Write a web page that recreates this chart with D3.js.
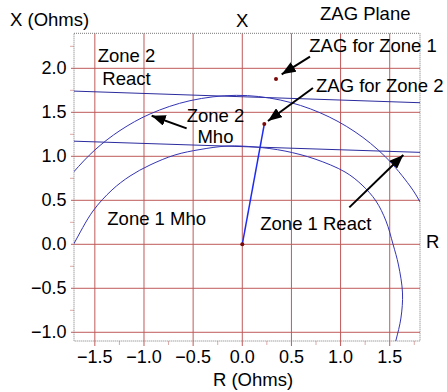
<!DOCTYPE html>
<html>
<head>
<meta charset="utf-8">
<script src="https://cdn.jsdelivr.net/npm/d3@7"></script>
<style>
  body { margin: 0; background: #fff; }
  svg text { font-family: "Liberation Sans", Arial, sans-serif; }
</style>
</head>
<body>
<div id="zag-chart"></div>
<script>
// axis ticks (Ohms)
const xTicks = [-1.5, -1.0, -0.5, 0.0, 0.5, 1.0, 1.5];
const yTicks = [-1.0, -0.5, 0.0, 0.5, 1.0, 1.5, 2.0];
const xMinor = [-1.25, -0.75, -0.25, 0.25, 0.75, 1.25, 1.75];
const yMinor = [-0.75, -0.25, 0.25, 0.75, 1.25, 1.75, 2.25];

// characteristics, [R, X]
const zone1Mho = [[-1.793, -0.156], [-1.712, 0.009], [-1.519, 0.378], [-1.326, 0.617], [-1.142, 0.776],
    [-0.939, 0.901], [-0.685, 1.015], [-0.430, 1.077], [-0.145, 1.117], [0.129, 1.106], [0.434, 1.060],
    [0.740, 0.969], [1.045, 0.822], [1.218, 0.674], [1.360, 0.492], [1.462, 0.265], [1.533, 0.003],
    [1.589, -0.235], [1.630, -0.553], [1.614, -0.838], [1.564, -1.088], [1.523, -1.258]];
const zone2Mho = [[-1.793, 0.710], [-1.712, 0.826], [-1.498, 1.074], [-1.244, 1.293], [-0.939, 1.481],
    [-0.532, 1.632], [-0.059, 1.693], [0.385, 1.640], [0.791, 1.495], [1.147, 1.278], [1.452, 0.999],
    [1.706, 0.663], [1.808, 0.483], [1.889, 0.308]];
const zone1React = [[-1.712, 1.172], [1.808, 1.045]];
const zone2React = [[-1.712, 1.741], [1.808, 1.609]];

// ZAG points
const zagNames = ["origin", "ZAG for Zone 1", "ZAG for Zone 2"];
const zagR = [0.0, 0.343, 0.224];
const zagX = [0.0, 1.878, 1.367];

// callouts: text, anchor, R, X (baseline)
const labelText = ["Zone 2", "React", "Zone 2", "Mho", "Zone 1 Mho", "Zone 1 React", "ZAG for Zone 1", "ZAG for Zone 2"];
const labelAnchor = ["middle", "middle", "middle", "middle", "middle", "middle", "start", "start"];
const labelR = [-1.178, -1.178, -0.273, -0.273, -0.871, 0.748, 0.682, 0.750];
const labelX = [2.068, 1.810, 1.393, 1.151, 0.219, 0.163, 2.189, 1.734];

// arrows: from [R, X] to [R, X]
const arrowFrom = [[-0.566, 1.318], [0.689, 2.132], [0.719, 1.776], [1.089, 0.420]];
const arrowTo = [[-0.922, 1.461], [0.401, 1.932], [0.261, 1.401], [1.638, 1.015]];

function drawZagPlane() {
    const W = 447, H = 392;
    let margin = { top: 33.3, right: 27, bottom: 51, left: 74 };
    const width = W - margin.left - margin.right,
    height = H - margin.top - margin.bottom;

    var svg = d3.select("#zag-chart").
    append("svg").
    attr("width", W).
    attr("height", H);

    var g = svg.append("g").
    attr("transform", "translate(" + margin.left + "," + margin.top + ")");

    var x = d3.scaleLinear().domain([-1.712, 1.808]).range([0, width]);
    var y = d3.scaleLinear().domain([-1.099, 2.398]).range([height, 0]);

    g.append("clipPath").attr("id", "plot-clip").
    append("rect").attr("width", width).attr("height", height);

    const gridColor = "#c05a5a";
    const tickColor = "#dcaaaa";

    // grid + major ticks sticking out
    g.selectAll(".vgrid").data(xTicks).enter().append("line").
    attr("x1", d => x(d)).attr("x2", d => x(d)).
    attr("y1", 0).attr("y2", height + 5).
    attr("stroke", gridColor).attr("stroke-width", 1);

    g.selectAll(".hgrid").data(yTicks).enter().append("line").
    attr("x1", -3).attr("x2", width).
    attr("y1", d => y(d)).attr("y2", d => y(d)).
    attr("stroke", gridColor).attr("stroke-width", 1);

    g.selectAll(".xminor").data(xMinor).enter().append("line").
    attr("x1", d => x(d)).attr("x2", d => x(d)).
    attr("y1", height).attr("y2", height + 4).
    attr("stroke", tickColor);

    g.selectAll(".yminor").data(yMinor).enter().append("line").
    attr("x1", -4).attr("x2", 0).
    attr("y1", d => y(d)).attr("y2", d => y(d)).
    attr("stroke", tickColor);

    // dotted frame
    g.append("rect").
    attr("x", 0).attr("y", 0).
    attr("width", width).attr("height", height).
    attr("fill", "none").
    attr("stroke", "#777").
    attr("stroke-width", 1).
    attr("stroke-dasharray", "1,1");

    const fmt = d => d3.format(".1f")(d).replace("-", "\u2212");

    g.selectAll(".xlab").data(xTicks).enter().append("text").
    attr("x", d => x(d)).
    attr("y", height + 21.7).
    attr("text-anchor", "middle").
    style("font-size", "18px").
    text(fmt);

    g.selectAll(".ylab").data(yTicks).enter().append("text").
    attr("x", -7.5).
    attr("y", d => y(d) + 6).
    attr("text-anchor", "end").
    style("font-size", "18px").
    text(fmt);

    var plot = g.append("g").attr("clip-path", "url(#plot-clip)");

    let line = d3.line().x(d => x(d[0])).y(d => y(d[1]));
    let curve = d3.line().x(d => x(d[0])).y(d => y(d[1])).curve(d3.curveCatmullRom);

    plot.append("path").datum(zone2React).attr("d", line).
    attr("fill", "none").attr("stroke", "#2b2b9e").attr("stroke-width", 1);
    plot.append("path").datum(zone1React).attr("d", line).
    attr("fill", "none").attr("stroke", "#2b2b9e").attr("stroke-width", 1);

    plot.append("path").datum(zone2Mho).attr("d", curve).
    attr("fill", "none").attr("stroke", "#3434b4").attr("stroke-width", 1);
    plot.append("path").datum(zone1Mho).attr("d", curve).
    attr("fill", "none").attr("stroke", "#3434b4").attr("stroke-width", 1);

    // line from origin to ZAG for zone 2
    plot.append("line").
    attr("x1", x(zagR[0])).attr("y1", y(zagX[0])).
    attr("x2", x(zagR[2])).attr("y2", y(zagX[2])).
    attr("stroke", "#1f2bf0").attr("stroke-width", 1.5);

    plot.selectAll(".zag").data(zagNames).enter().append("circle").
    attr("cx", (d, i) => x(zagR[i])).
    attr("cy", (d, i) => y(zagX[i])).
    attr("r", 2).
    attr("fill", "#7a0a0a");

    // arrow heads
    svg.append("defs").append("marker").
    attr("id", "head").
    attr("viewBox", "0 0 14 11").
    attr("refX", 14).attr("refY", 5.5).
    attr("markerWidth", 14).attr("markerHeight", 11).
    attr("markerUnits", "userSpaceOnUse").
    attr("orient", "auto").
    append("path").attr("d", "M0,0 L14,5.5 L0,11 Z").attr("fill", "#000");

    g.selectAll(".arrow").data(arrowFrom).enter().append("line").
    attr("x1", d => x(d[0])).attr("y1", d => y(d[1])).
    attr("x2", (d, i) => x(arrowTo[i][0])).attr("y2", (d, i) => y(arrowTo[i][1])).
    attr("stroke", "#000").attr("stroke-width", 2).
    attr("marker-end", "url(#head)");

    g.selectAll(".callout").data(labelText).enter().append("text").
    attr("x", (d, i) => x(labelR[i])).
    attr("y", (d, i) => y(labelX[i])).
    attr("text-anchor", (d, i) => labelAnchor[i]).
    style("font-size", "18.5px").
    text(d => d);

    // titles around the frame
    svg.append("text").attr("x", 10).attr("y", 26).style("font-size", "18.5px").text("X (Ohms)");
    svg.append("text").attr("x", x(0) + margin.left).attr("y", 26.5).attr("text-anchor", "middle").
    style("font-size", "18.5px").text("X");
    svg.append("text").attr("x", 320).attr("y", 19.5).style("font-size", "18.5px").text("ZAG Plane");
    svg.append("text").attr("x", 426).attr("y", y(0) + margin.top + 4).style("font-size", "18.5px").text("R");
    svg.append("text").attr("x", 253).attr("y", 385.5).attr("text-anchor", "middle").
    style("font-size", "18.5px").text("R (Ohms)");
}

document.addEventListener("DOMContentLoaded", () => {
    drawZagPlane();
});
</script>
</body>
</html>
